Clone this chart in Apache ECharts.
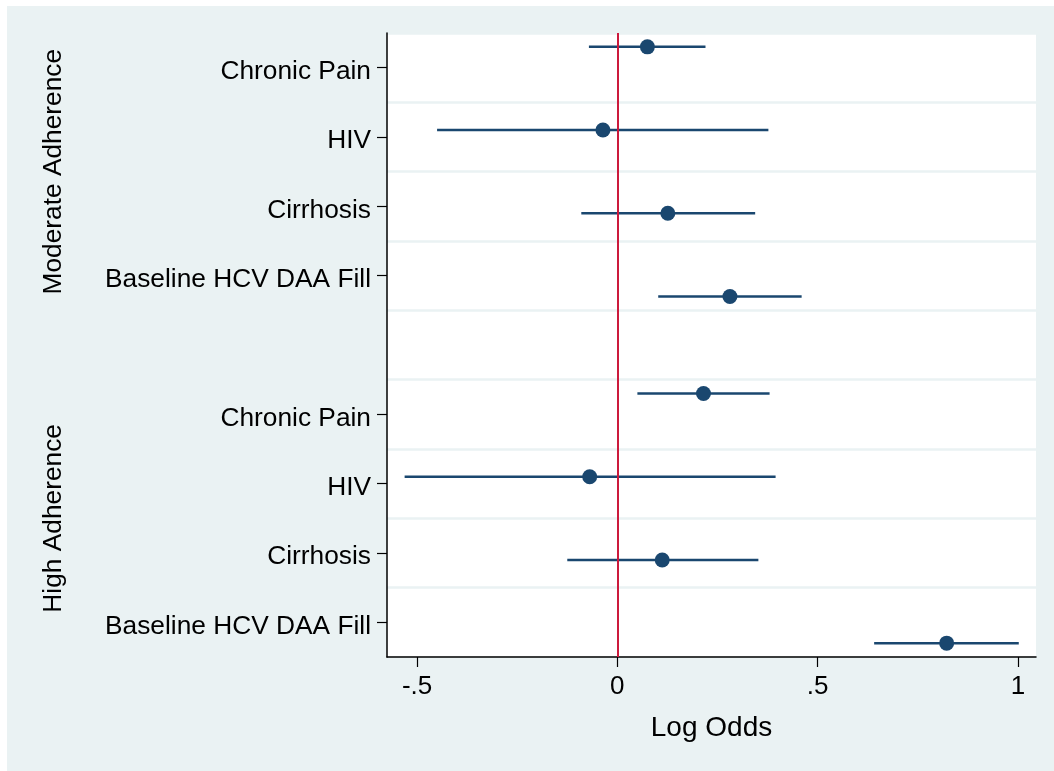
<!DOCTYPE html>
<html>
<head>
<meta charset="utf-8">
<script src="https://cdn.jsdelivr.net/npm/echarts@6/dist/echarts.min.js"></script>
<style>
  html, body { margin: 0; padding: 0; background: #ffffff; }
  #chart { position: absolute; left: 7px; top: 6px; width: 1047px; height: 765px; }
</style>
</head>
<body>
<div id="chart"></div>
<script>
// ---- Data ----
const groups = ['Moderate Adherence', 'High Adherence'];
const groupCenters = [1.5, 6.5];
const rowLabels = ['Chronic Pain', 'HIV', 'Cirrhosis', 'Baseline HCV DAA Fill', '',
                   'Chronic Pain', 'HIV', 'Cirrhosis', 'Baseline HCV DAA Fill'];
// vertical position of each estimate (in row units, rows 0..8)
const pointRows = [-0.3, 0.9, 2.1, 3.3, 4.7, 5.9, 7.1, 8.3];

const moderateEst = [0.075, -0.036, 0.126, 0.281];
const moderateLo  = [-0.071, -0.450, -0.090, 0.102];
const moderateHi  = [0.220, 0.377, 0.344, 0.460];

const highEst = [0.215, -0.069, 0.112, 0.822];
const highLo  = [0.050, -0.531, -0.125, 0.641];
const highHi  = [0.380, 0.395, 0.352, 1.002];

const xTickValues = [-0.5, 0, 0.5, 1];
const xTickLabels = ['-.5', '0', '.5', '1'];

// ---- Build series data ----
const est = moderateEst.concat(highEst);
const lo = moderateLo.concat(highLo);
const hi = moderateHi.concat(highHi);
const ciData = est.map((_, i) => [lo[i], hi[i], pointRows[i]]);
const ptData = est.map((e, i) => [e, pointRows[i]]);

const navy = '#1a476f';
const red = '#cc1a3c';
const bg = '#eaf2f3';
const font = '"Liberation Sans", Arial, Helvetica, sans-serif';

const chart = echarts.init(document.getElementById('chart'), null, { renderer: 'canvas' });
chart.setOption({
  backgroundColor: bg,
  animation: false,
  textStyle: { fontFamily: font },
  grid: {
    left: 380, top: 27, right: 18, bottom: 114,
    show: true, backgroundColor: '#ffffff', borderWidth: 0
  },
  xAxis: {
    type: 'value',
    min: -0.575, max: 1.045,
    axisLine: { show: true, onZero: false, lineStyle: { color: '#000', width: 1.5 } },
    axisTick: { show: true, length: 10, customValues: xTickValues, lineStyle: { color: '#000', width: 1.2 } },
    axisLabel: {
      customValues: xTickValues,
      formatter: v => xTickLabels[xTickValues.indexOf(v)],
      fontSize: 26, color: '#000', margin: 17, fontFamily: font
    },
    splitLine: { show: false },
    name: 'Log Odds', nameLocation: 'middle', nameGap: 57,
    nameTextStyle: { fontSize: 28, color: '#000', fontFamily: font }
  },
  yAxis: [
    {
      type: 'category',
      data: rowLabels,
      inverse: true,
      position: 'left',
      boundaryGap: true,
      axisLine: { show: true, onZero: false, lineStyle: { color: '#000', width: 1.5 } },
      axisTick: {
        show: true, length: 10, alignWithLabel: true,
        interval: (i, v) => v !== '',
        lineStyle: { color: '#000', width: 1.2 }
      },
      axisLabel: {
        interval: 0, fontSize: 26.3, color: '#000', margin: 16, fontFamily: font,
        verticalAlign: 'top', lineHeight: 8
      },
      splitLine: { show: true, interval: 0, lineStyle: { color: bg, width: 2.5 } }
    },
    {
      type: 'value',
      min: -0.5, max: 8.5,
      inverse: true,
      position: 'left',
      axisLine: { show: false, onZero: false },
      axisTick: { show: false },
      splitLine: { show: false },
      axisLabel: {
        customValues: groupCenters,
        formatter: v => groups[groupCenters.indexOf(v)],
        rotate: 90, margin: 320,
        fontSize: 26.3, color: '#000', fontFamily: font
      }
    }
  ],
  series: [
    {
      type: 'line', data: [], z: 1, xAxisIndex: 0, yAxisIndex: 1,
      markLine: {
        silent: true, symbol: ['none', 'none'],
        label: { show: false },
        lineStyle: { color: red, width: 2, type: 'solid' },
        data: [{ xAxis: 0 }]
      }
    },
    {
      type: 'custom', z: 3, xAxisIndex: 0, yAxisIndex: 1,
      data: ciData,
      encode: { x: [0, 1], y: 2 },
      renderItem: (params, api) => {
        const p1 = api.coord([api.value(0), api.value(2)]);
        const p2 = api.coord([api.value(1), api.value(2)]);
        return {
          type: 'line',
          shape: { x1: p1[0], y1: p1[1], x2: p2[0], y2: p2[1] },
          style: { stroke: navy, lineWidth: 2.5 }
        };
      }
    },
    {
      type: 'scatter', z: 4, xAxisIndex: 0, yAxisIndex: 1,
      data: ptData,
      symbol: 'circle', symbolSize: 15,
      itemStyle: { color: navy, opacity: 1 }
    }
  ]
});
</script>
</body>
</html>
